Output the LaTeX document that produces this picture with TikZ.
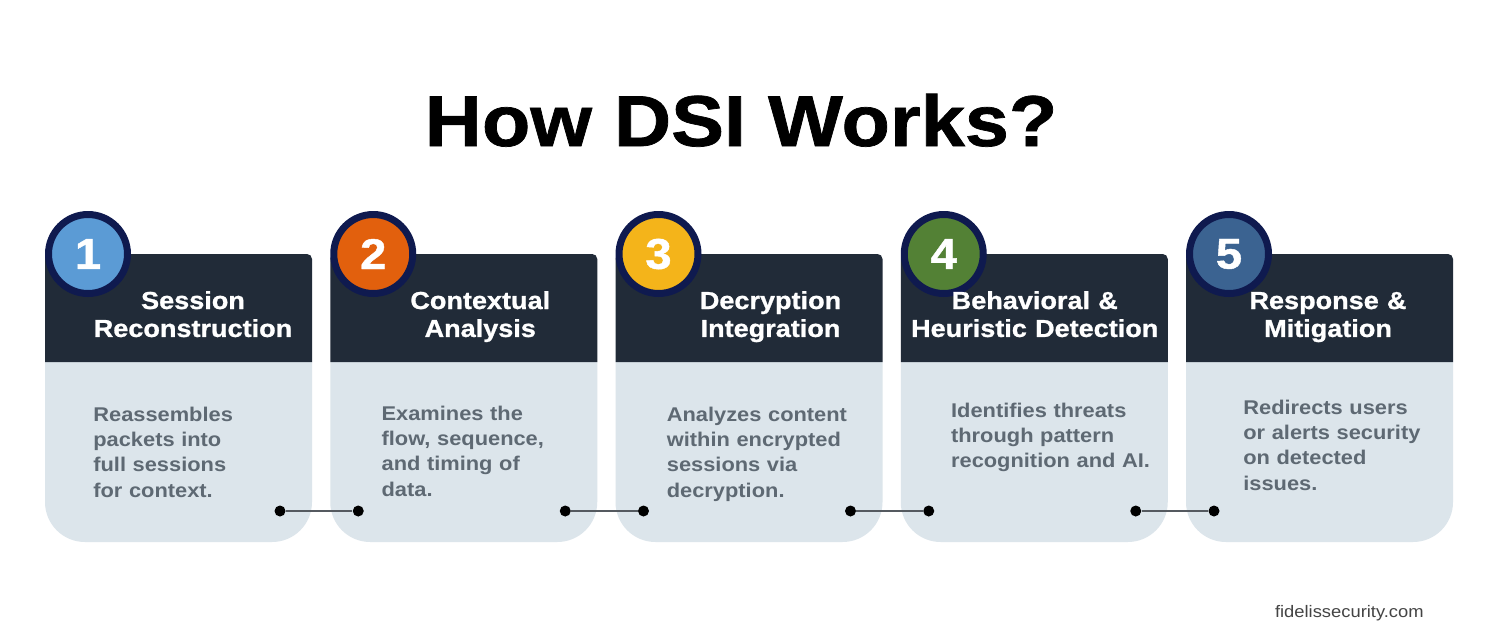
\documentclass[tikz,border=0pt]{standalone}
\usepackage{fontspec}
\setmainfont{Liberation Sans}[FakeStretch=1.1]
\newfontfamily\heavysans{Liberation Sans Bold}[FakeStretch=1.1, FakeBold=1]
\usetikzlibrary{positioning}
\definecolor{dsinavy}{HTML}{0F1A4F}
\definecolor{dsihead}{HTML}{212B38}
\definecolor{dsibody}{HTML}{DCE5EB}
\definecolor{dsitext}{HTML}{5E6973}
\definecolor{dsilink}{HTML}{555A60}
\definecolor{dsiweb}{HTML}{444444}
\definecolor{dsiblue}{HTML}{5B9BD5}
\definecolor{dsiorange}{HTML}{E2600D}
\definecolor{dsiyellow}{HTML}{F4B41A}
\definecolor{dsigreen}{HTML}{538135}
\definecolor{dsisteel}{HTML}{3B6391}

\begin{document}
\begin{tikzpicture}[x=0.02cm, y=-0.02cm,
        headbox/.style={fill=dsihead, rounded corners=0.1cm},
        bodybox/.style={fill=dsibody, rounded corners=0.8cm},
        numdisc/.style={circle, draw=dsinavy, line width=0.14cm, minimum size=1.58cm, inner sep=0pt, text=white, font=\heavysans\fontsize{24.5}{24.5}\selectfont},
        headtext/.style={text=white, text width=5.2cm, align=center, anchor=base, inner sep=0pt, font=\heavysans\fontsize{14}{15.9}\selectfont},
        bodytext/.style={text=dsitext, text width=4.6cm, align=left, anchor=base west, inner sep=0pt, font=\bfseries\fontsize{11.3}{14.5}\selectfont},
        joint/.style={circle, fill=black, minimum size=0.22cm, inner sep=0pt},
        link/.style={draw=dsilink, line width=0.035cm}
    ]
      \fill[white] (0,0) rectangle (1500,636);
      \useasboundingbox (0,0) rectangle (1500,636);

      % Title
      \node[anchor=base, inner sep=0pt, font=\heavysans\fontsize{41}{41}\selectfont] (title) at (741,146) {How DSI Works?};

      % Step cards
      \foreach \i/\col/\hx/\head/\bx/\by/\body in {
          1/dsiblue/148/{Session\\Reconstruction}/48/421/{Reassembles\\packets into\\full sessions\\for context.},
          2/dsiorange/150/{Contextual\\Analysis}/51/420/{Examines the\\flow, sequence,\\and timing of\\data.},
          3/dsiyellow/155/{Decryption\\Integration}/51/421/{Analyzes content\\within encrypted\\sessions via\\decryption.},
          4/dsigreen/134/{Behavioral \&\\Heuristic Detection}/50/417/{Identifies threats\\through pattern\\recognition and AI.},
          5/dsisteel/142/{Response \&\\Mitigation}/57/414/{Redirects users\\or alerts security\\on detected\\issues.}}{
        \pgfmathsetmacro{\x}{45+(\i-1)*285.25}
        \fill[bodybox] (\x,362) -- (\x,542) -- (\x+267,542) -- (\x+267,362);
        \fill[headbox] (\x,362) -- (\x,254) -- (\x+267,254) -- (\x+267,362);
        \node[numdisc, fill=\col] (num\i) at (\x+43,254) {\i};
        \node[headtext] (head\i) at (\x+\hx,309) {\head};
        \node[bodytext] (text\i) at (\x+\bx,\by) {\body};
      }

      % Links between cards
      \foreach \i/\j in {1/2, 2/3, 3/4, 4/5}{
        \pgfmathsetmacro{\xo}{45+(\i-1)*285.25+235}
        \pgfmathsetmacro{\xi}{45+(\j-1)*285.25+28}
        \node[joint] (out\i) at (\xo,511) {};
        \node[joint] (in\j) at (\xi,511) {};
        \draw[link] (out\i) -- (in\j);
      }

      % Source
      \node[anchor=base east, inner sep=0pt, text=dsiweb, font=\fontsize{9.5}{9.5}\selectfont] (web) at (1424,617) {fidelissecurity.com};
    \end{tikzpicture}
\end{document}
